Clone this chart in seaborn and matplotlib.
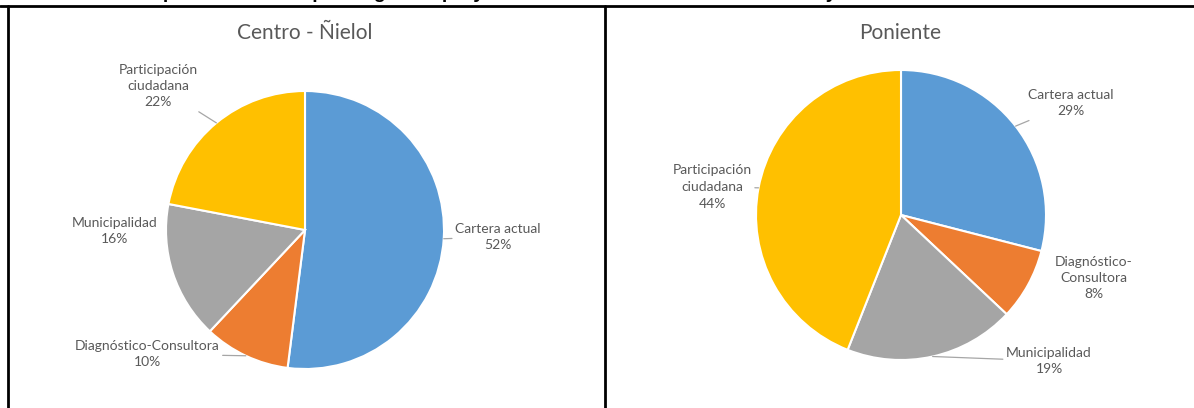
import numpy as np
import matplotlib.pyplot as plt
import seaborn as sns
from matplotlib.lines import Line2D

# Datos
categorias = ["Cartera actual", "Diagnóstico-Consultora", "Municipalidad", "Participación ciudadana"]
centro_nielol = [52, 10, 16, 22]
poniente = [29, 8, 19, 44]

etiquetas_centro = ["Cartera actual", "Diagnóstico-Consultora", "Municipalidad", "Participación\nciudadana"]
etiquetas_poniente = ["Cartera actual", "Diagnóstico-\nConsultora", "Municipalidad", "Participación\nciudadana"]

titulo_general = "Gráfico N°11: Representatividad por origen de proyectos en los sectores Centro - Ñielol y Poniente"

sns.set_theme(style="white")
plt.rcParams['font.family'] = ['Lato', 'DejaVu Sans']

colores = list(sns.color_palette(["#5B9BD5", "#ED7D31", "#A5A5A5", "#FFC000"]))
TXT = "#595959"
LEADER = "#A6A6A6"

W, H = 1194, 408
fig = plt.figure(figsize=(W / 100, H / 100), dpi=100)


def pie_panel(values, labels, title, cx, cy, r, half_w, half_h, label_pos, leaders, title_x):
    """Draw one pie with Excel-like data labels; positions given in pixels."""
    ax = fig.add_axes([(cx - half_w) / W, 1 - (cy + half_h) / H, 2 * half_w / W, 2 * half_h / H])
    wedges, _ = ax.pie(values, colors=colores, startangle=90, counterclock=False, radius=1,
                       wedgeprops=dict(edgecolor="white", linewidth=1.5))
    ax.set_xlim(-half_w / r, half_w / r)
    ax.set_ylim(-half_h / r, half_h / r)
    ax.set_aspect("auto")
    ax.axis("off")

    total = float(sum(values))
    for w, lab, v, (px, py), lead in zip(wedges, labels, values, label_pos, leaders):
        txt = f"{lab}\n{v / total:.0%}"
        pos = ((px - cx) / r, -(py - cy) / r)
        mid = np.deg2rad((w.theta1 + w.theta2) / 2)
        edge = (np.cos(mid), np.sin(mid))
        if lead:
            ax.annotate(txt, xy=edge, xytext=pos, ha="center", va="center", fontsize=10,
                        color=TXT, linespacing=1.45, annotation_clip=False,
                        arrowprops=dict(arrowstyle="-", color=LEADER, lw=0.9, shrinkA=0, shrinkB=0))
        else:
            ax.text(pos[0], pos[1], txt, ha="center", va="center", fontsize=10,
                    color=TXT, linespacing=1.45, clip_on=False)

    fig.text(title_x / W, 1 - 33 / H, title, ha="center", va="center", fontsize=15, color=TXT)
    return ax


pie_panel(centro_nielol, etiquetas_centro, "Centro - Ñielol",
          cx=305, cy=230, r=139, half_w=290, half_h=178,
          label_pos=[(498, 237), (147, 354), (115, 231), (158, 86)],
          leaders=[True, True, False, True], title_x=305)

pie_panel(poniente, etiquetas_poniente, "Poniente",
          cx=901, cy=215, r=145, half_w=290, half_h=193,
          label_pos=[(1071, 103), (1094, 278), (1049, 361), (712, 187)],
          leaders=[True, False, True, True], title_x=900)

# Marco de la tabla del documento original
fig.add_artist(Line2D([0, 1], [1 - 6 / H] * 2, transform=fig.transFigure, color="black", lw=2))
fig.add_artist(Line2D([8 / W] * 2, [0, 1 - 6 / H], transform=fig.transFigure, color="black", lw=2))
fig.add_artist(Line2D([605 / W] * 2, [0, 1 - 6 / H], transform=fig.transFigure, color="black", lw=2))

# Título del documento, cortado en el borde superior como en la captura
fig.text(10 / W, 1 + 2.5 / H, titulo_general, ha="left", va="baseline", fontsize=14,
         fontweight="bold", color="black", family=["Liberation Sans", "DejaVu Sans"])

fig.savefig("out.png", dpi=100)
